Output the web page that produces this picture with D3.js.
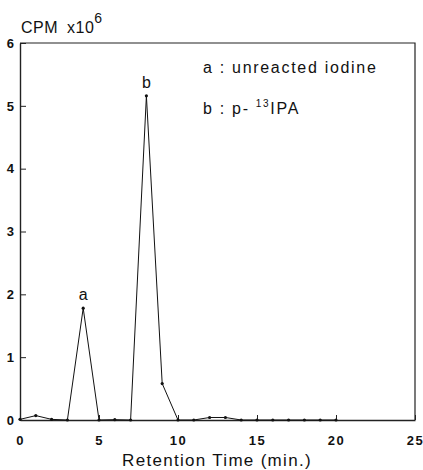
<!DOCTYPE html>
<html>
<head>
<meta charset="utf-8">
<script src="https://cdn.jsdelivr.net/npm/d3@7/dist/d3.min.js"></script>
<style>
  body { margin: 0; background: #fff; }
  text { font-family: "Liberation Sans", Arial, sans-serif; fill: #111; }
</style>
</head>
<body>
<svg id="chart" width="423" height="470"></svg>
<script>
// retention time (min.) and counts (CPM x10^6)
var times  = [0, 1, 2, 3, 4, 5, 6, 7, 8, 9, 10, 11, 12, 13, 14, 15, 16, 17, 18, 19, 20];
var counts = [0.01, 0.07, 0.01, 0, 1.78, 0, 0.005, 0, 5.16, 0.58, 0, 0, 0.04, 0.04, 0, 0, 0, 0, 0, 0, 0];
var xTicks = [0, 5, 10, 15, 20, 25];
var yTicks = [0, 1, 2, 3, 4, 5, 6];
var peakLabels = [["a", 4, 1.78], ["b", 8, 5.16]];

var svg = d3.select("#chart");
var plotL = 20, plotR = 415, plotT = 43, plotB = 420;

var x = d3.scaleLinear().domain([0, 25]).range([plotL, plotR]);
var y = d3.scaleLinear().domain([0, 6]).range([plotB, plotT]);

/**
 * Frame: top and right edges of the plot box.
 */
svg.append("path")
    .attr("d", "M" + plotL + "," + plotT + "H" + plotR + "V" + plotB)
    .attr("fill", "none").attr("stroke", "#222").attr("stroke-width", 1.2);

/**
 * Axes with inward ticks.
 */
var xAxis = svg.append("g").attr("transform", "translate(0," + plotB + ")")
    .call(d3.axisBottom(x).tickValues(xTicks).tickFormat(d3.format("d"))
          .tickSizeInner(-5).tickSizeOuter(0).tickPadding(16));
xAxis.select(".domain").attr("stroke", "#222").attr("stroke-width", 1.4);
xAxis.selectAll(".tick line").attr("stroke", "#222");
xAxis.selectAll(".tick text")
    .attr("font-size", 13).attr("font-weight", "bold").attr("fill", "#111")
    .attr("letter-spacing", 1.5)
    .attr("font-family", "'DejaVu Sans', Arial, sans-serif");

var yAxis = svg.append("g").attr("transform", "translate(" + plotL + ",0)")
    .call(d3.axisLeft(y).tickValues(yTicks).tickFormat(d3.format("d"))
          .tickSizeInner(-6).tickSizeOuter(0).tickPadding(6));
yAxis.select(".domain").attr("stroke", "#222").attr("stroke-width", 1.4);
yAxis.selectAll(".tick line").attr("stroke", "#222");
yAxis.selectAll(".tick text")
    .attr("font-size", 13).attr("font-weight", "bold").attr("fill", "#111")
    .attr("font-family", "'Liberation Sans', Arial, sans-serif");

/**
 * The trace and its sample dots.
 */
var pts = times.map(function (t, i) { return [t, counts[i]]; });
svg.append("path")
    .datum(pts)
    .attr("d", d3.line().x(function (d) { return x(d[0]); }).y(function (d) { return y(d[1]); }))
    .attr("fill", "none").attr("stroke", "#111").attr("stroke-width", 1);
svg.selectAll("circle.pt").data(pts).enter().append("circle")
    .attr("class", "pt")
    .attr("cx", function (d) { return x(d[0]); })
    .attr("cy", function (d) { return y(d[1]); })
    .attr("r", 1.6).attr("fill", "#111");

/**
 * Peak letters.
 */
svg.selectAll("text.peak").data(peakLabels).enter().append("text")
    .attr("class", "peak")
    .attr("x", function (d) { return x(d[1]); })
    .attr("y", function (d) { return y(d[2]) - 8; })
    .attr("text-anchor", "middle").attr("font-size", 16)
    .text(function (d) { return d[0]; });

/**
 * Legend text.
 */
svg.append("text").attr("x", 203).attr("y", 73).attr("font-size", 16)
    .attr("letter-spacing", 1.7).text("a : unreacted iodine");
var lb = svg.append("text").attr("x", 203).attr("y", 114).attr("font-size", 16)
    .attr("letter-spacing", 1.7);
lb.append("tspan").text("b : p- ");
lb.append("tspan").attr("font-size", 10).attr("dy", -7).text("13");
lb.append("tspan").attr("dy", 7).text("IPA");

/**
 * Axis titles.
 */
var yt = svg.append("text").attr("x", 21).attr("y", 33).attr("font-size", 16)
    .attr("letter-spacing", 0.5);
yt.append("tspan").text("CPM");
yt.append("tspan").attr("dx", 9).text("x10");
yt.append("tspan").attr("font-size", 14).attr("dy", -10).text("6");

svg.append("text").attr("x", 217).attr("y", 466).attr("text-anchor", "middle")
    .attr("font-size", 17).attr("letter-spacing", 1.3).text("Retention Time (min.)");
</script>
</body>
</html>
